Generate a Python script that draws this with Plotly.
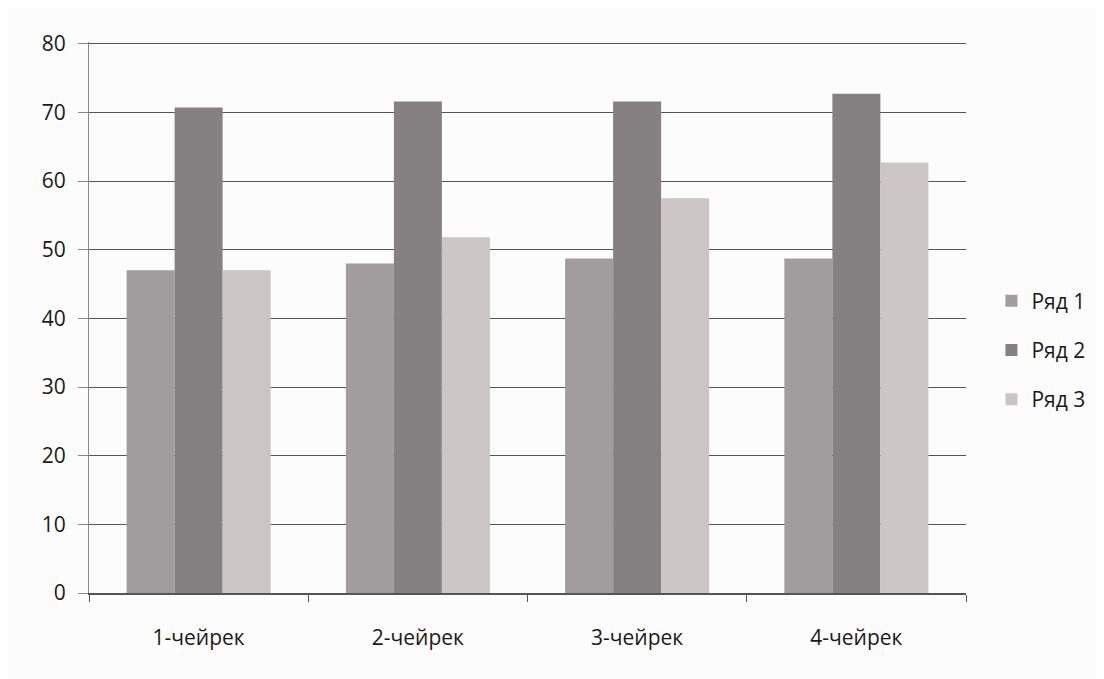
import plotly.graph_objects as go

categories = ["1-чейрек", "2-чейрек", "3-чейрек", "4-чейрек"]
series_names = ["Ряд 1", "Ряд 2", "Ряд 3"]
row1 = [47.0, 48.0, 48.7, 48.7]
row2 = [70.7, 71.6, 71.6, 72.7]
row3 = [47.0, 51.8, 57.5, 62.7]
y_ticks = [0, 10, 20, 30, 40, 50, 60, 70, 80]

colors = ["#a19c9d", "#858081", "#cbc5c6"]
values = [row1, row2, row3]

fig = go.Figure()
for i, (name, vals) in enumerate(zip(series_names, values)):
    fig.add_trace(go.Bar(
        x=categories, y=vals, name=name,
        marker=dict(color=colors[i], line=dict(width=0)),
        legendgroup=name,
    ))

font_family = "Open Sans, Liberation Sans, sans-serif"
fig.update_layout(
    width=1104, height=679,
    margin=dict(l=81, r=146, t=34, b=94),
    paper_bgcolor="#fdfcfc", plot_bgcolor="#fdfcfc",
    barmode="group", bargap=0.343, bargroupgap=0,
    font=dict(family=font_family, size=21, color="#1a1a1a"),
    showlegend=True,
    legend=dict(x=1.029, y=0.441, xanchor="left", yanchor="middle",
                tracegroupgap=19, font=dict(size=21), bgcolor="rgba(0,0,0,0)"),
    xaxis=dict(showline=True, linecolor="#555", linewidth=1.5,
               ticks="outside", tickson="boundaries", ticklen=7, tickcolor="#555",
               showgrid=False, tickfont=dict(size=21), ticklabelstandoff=25),
    yaxis=dict(range=[0, 80.25], tickvals=y_ticks, showline=True, linecolor="#888",
               linewidth=1, ticks="outside", ticklen=10, tickcolor="#888",
               showgrid=True, gridcolor="#555", gridwidth=1.2, zeroline=False,
               tickfont=dict(size=21), ticklabelstandoff=8),
)

fig.write_html("out.html")
